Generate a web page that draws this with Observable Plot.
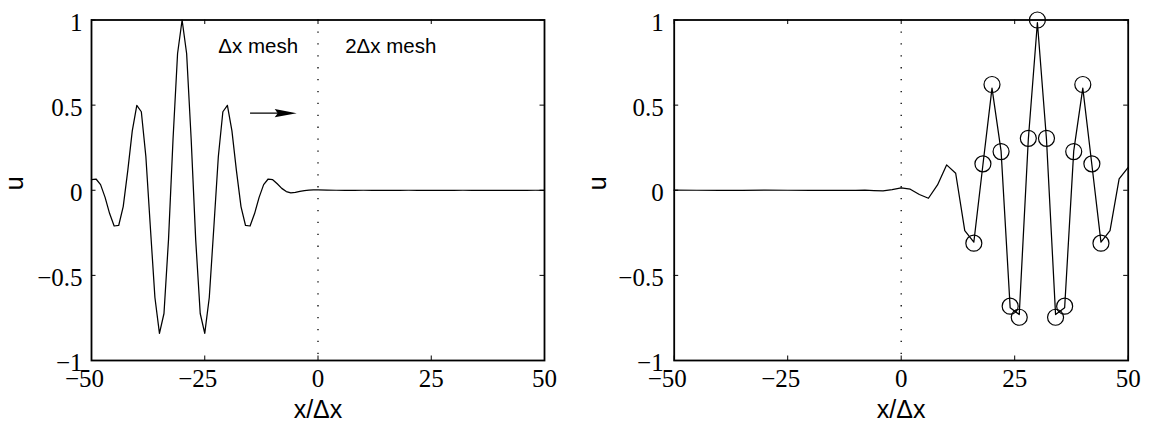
<!DOCTYPE html>
<html>
<head>
<meta charset="utf-8">
<script src="https://cdn.jsdelivr.net/npm/d3@7"></script>
<script src="https://cdn.jsdelivr.net/npm/@observablehq/plot@0.6"></script>
<style>
  html, body { margin: 0; padding: 0; background: #fff; }
  #chart { display: flex; width: 1150px; height: 432px; }
  #chart svg { display: block; }
</style>
</head>
<body>
<div id="chart"></div>
<script>
// Wave packet on the fine (Δx) mesh, before it reaches the interface at x = 0
const leftX = [
  -50, -49, -48, -47, -46, -45, -44, -43, -42, -41,
  -40, -39, -38, -37, -36, -35, -34, -33, -32, -31,
  -30, -29, -28, -27, -26, -25, -24, -23, -22, -21,
  -20, -19, -18, -17, -16, -15, -14, -13, -12, -11,
  -10, -9, -8, -7, -6, -5, -4, -3, -2, -1, 0,
  2, 4, 6, 8, 10, 12, 14, 16, 18, 20, 22, 24, 26,
  28, 30, 32, 34, 36, 38, 40, 42, 44, 46, 48, 50
];
const leftU = [
  0.062, 0.066, 0.033, -0.042, -0.137, -0.210, -0.207, -0.096, 0.114, 0.349,
  0.499, 0.461, 0.198, -0.220, -0.630, -0.841, -0.724, -0.290, 0.301, 0.803,
  1.000, 0.803, 0.301, -0.290, -0.724, -0.841, -0.630, -0.220, 0.198, 0.461,
  0.499, 0.349, 0.114, -0.096, -0.207, -0.210, -0.137, -0.042, 0.033, 0.066,
  0.062, 0.038, 0.011, -0.008, -0.015, -0.013, -0.007, -0.002, 0.001, 0.002, 0.002,
  0.001, 0.000, -0.001, -0.001, 0.000, 0.000, 0.000, -0.001, -0.001, 0.000, 0.000, 0.000, 0.000,
  0.000, -0.001, 0.000, 0.000, 0.000, 0.000, 0.000, 0.000, 0.000, -0.001, 0.000, 0.000
];

// Packet after transmission onto the coarse (2Δx) mesh
const rightX = [
  -50, -45, -40, -35, -30, -25, -20, -15, -10, -8, -6, -4, -2, 0,
  2, 4, 6, 8, 10, 12, 14, 16, 18, 20, 22, 24, 26,
  28, 30, 32, 34, 36, 38, 40, 42, 44, 46, 48, 50
];
const rightU = [
  0.001, 0.000, 0.000, 0.000, 0.001, 0.000, 0.000, 0.000, 0.000, 0.001, -0.002, -0.004, 0.004, 0.014,
  0.006, -0.025, -0.047, 0.031, 0.149, 0.100, -0.237, -0.305, 0.150, 0.600, 0.230, -0.690, -0.730,
  0.300, 0.985, 0.300, -0.730, -0.690, 0.230, 0.600, 0.150, -0.305, -0.237, 0.067, 0.135
];

// Reference solution at the coarse mesh nodes
const nodeX = [16, 18, 20, 22, 24, 26, 28, 30, 32, 34, 36, 38, 40, 42, 44];
const nodeU = [-0.311, 0.155, 0.621, 0.227, -0.681, -0.746, 0.305, 1.000, 0.305, -0.746, -0.681, 0.227, 0.621, 0.155, -0.311];

const xTicks = [-50, -25, 0, 25, 50];
const xTickLabels = ["\u221250", "\u221225", "0", "25", "50"];
const yTicks = [-1, -0.5, 0, 0.5, 1];
const yTickLabels = ["\u22121", "\u22120.5", "0", "0.5", "1"];

const serif = "Liberation Serif";
const sans = "Liberation Sans";

// Filled, slim arrowhead with its tip at the symbol origin
const arrowHead = {
  draw(ctx, size) {
    const r = Math.sqrt(size / Math.PI);
    ctx.moveTo(0, 0);
    ctx.lineTo(-2.2 * r, -0.42 * r);
    ctx.lineTo(-1.9 * r, 0);
    ctx.lineTo(-2.2 * r, 0.42 * r);
    ctx.closePath();
  }
};

function panel({xs, us, nodes, marginLeft, marginRight, yPad, extras}) {
  const T = 4.5; // inward tick length
  const fmtX = v => xTickLabels[xTicks.indexOf(v)];
  const fmtY = v => yTickLabels[yTicks.indexOf(v)];
  const pts = xs.map((x, i) => ({x, u: us[i]}));
  const marks = [
    Plot.ruleX([0], {stroke: "black", strokeWidth: 1.3, strokeDasharray: "1.3,10.6"}),
    Plot.line(pts, {x: "x", y: "u", stroke: "black", strokeWidth: 1.25}),
    // inward ticks on all four sides
    Plot.ruleX(xTicks, {y1: -1, y2: -1, insetTop: -T, stroke: "black", strokeWidth: 1}),
    Plot.ruleX(xTicks, {y1: 1, y2: 1, insetBottom: -T, stroke: "black", strokeWidth: 1}),
    Plot.ruleY(yTicks, {x1: -50, x2: -50, insetRight: -T, stroke: "black", strokeWidth: 1}),
    Plot.ruleY(yTicks, {x1: 50, x2: 50, insetLeft: -T, stroke: "black", strokeWidth: 1}),
    Plot.frame({stroke: "black", strokeWidth: 1.8}),
    // tick labels: digits centred on the tick, minus sign hanging to the left
    Plot.text(xTicks.filter(v => v < 0), {x: d => d, frameAnchor: "bottom", dy: 26, dx: -7,
      text: fmtX, fontSize: 25, fontFamily: serif, fill: "black"}),
    Plot.text(xTicks.filter(v => v >= 0), {x: d => d, frameAnchor: "bottom", dy: 26,
      text: fmtX, fontSize: 25, fontFamily: serif, fill: "black"}),
    Plot.text(yTicks, {y: d => d, frameAnchor: "left", textAnchor: "end", dx: -yPad, dy: 2.5,
      text: fmtY, fontSize: 25, fontFamily: serif, fill: "black"}),
    Plot.text(["x/\u0394x"], {frameAnchor: "bottom", dy: 57, fontSize: 25, fontFamily: sans, fill: "black"}),
    Plot.text(["u"], {frameAnchor: "left", rotate: -90, dx: -76.5, fontSize: 25, fontFamily: sans, fill: "black"})
  ];
  if (nodes) {
    const np = nodes.x.map((x, i) => ({x, u: nodes.u[i]}));
    marks.push(Plot.dot(np, {x: "x", y: "u", r: 8, stroke: "black", strokeWidth: 1.2, fill: "none"}));
  }
  if (extras) marks.push(...extras);
  return Plot.plot({
    width: 575,
    height: 432,
    marginLeft,
    marginRight,
    marginTop: 19.5,
    marginBottom: 72,
    x: {domain: [-50, 50], label: null, axis: null},
    y: {domain: [-1, 1], label: null, axis: null},
    style: {background: "white", color: "black", overflow: "visible"},
    marks
  });
}

const leftExtras = [
  Plot.text(["\u0394x mesh"], {x: -22, y: 0.843, textAnchor: "start", fontSize: 20.5, fontFamily: sans, fill: "black"}),
  Plot.text(["2\u0394x mesh"], {x: 6, y: 0.843, textAnchor: "start", fontSize: 20.5, fontFamily: sans, fill: "black"}),
  Plot.link([0], {x1: -15, x2: -6, y1: 0.453, y2: 0.453, stroke: "black", strokeWidth: 1.3}),
  Plot.dot([0], {x: -4.7, y: 0.453, r: 10, symbol: arrowHead, fill: "black", stroke: "none"})
];

const chart = document.getElementById("chart");
chart.append(panel({xs: leftX, us: leftU, marginLeft: 91, marginRight: 31, yPad: 9, extras: leftExtras}));
chart.append(panel({xs: rightX, us: rightU, nodes: {x: nodeX, u: nodeU}, marginLeft: 98.7, marginRight: 22.3, yPad: 10.5}));
</script>
</body>
</html>
